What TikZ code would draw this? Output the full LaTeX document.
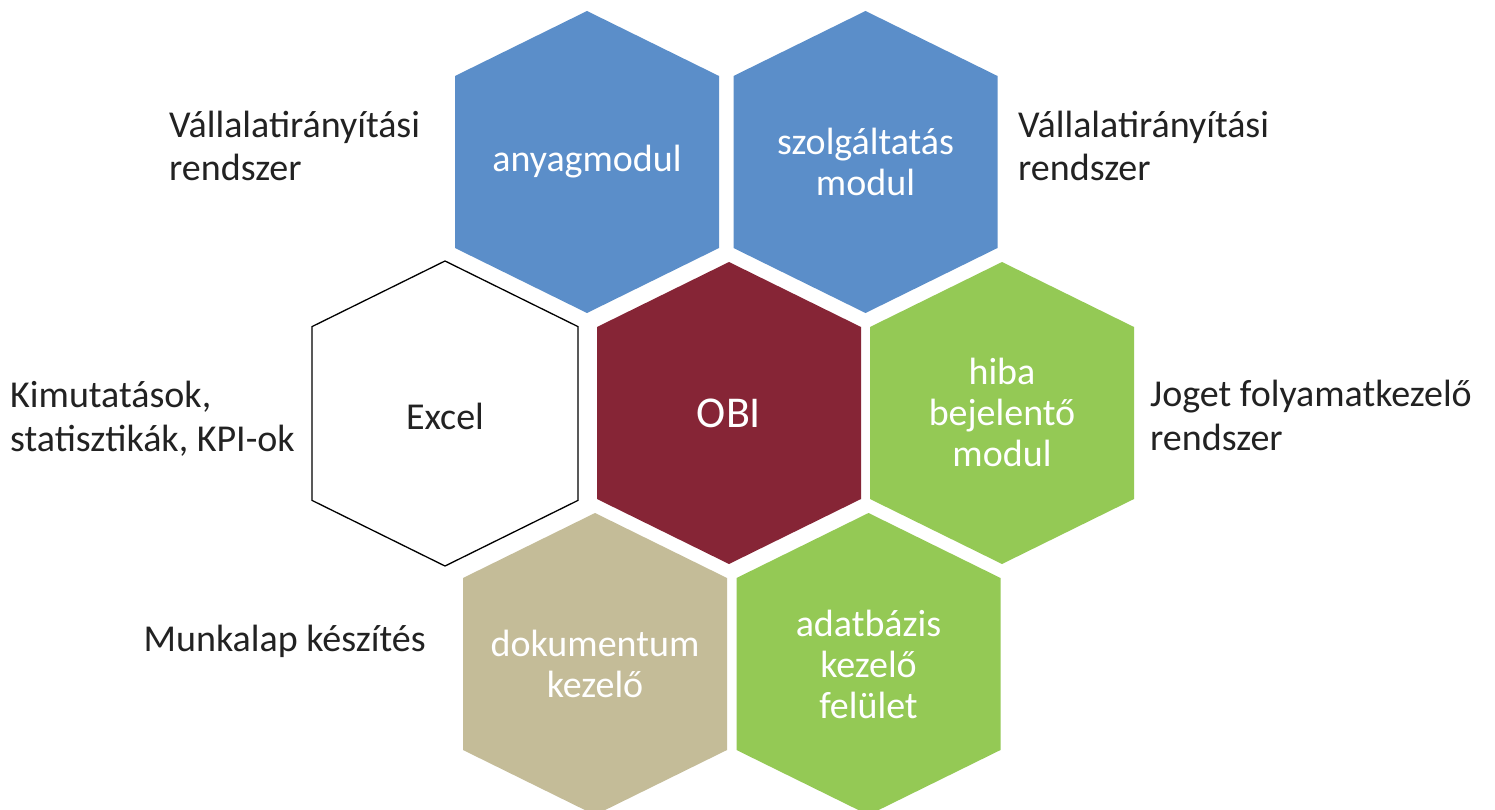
\documentclass[tikz,border=0pt]{standalone}
\usepackage{fontspec}
\setmainfont{Carlito}
\definecolor{hexblue}{HTML}{5B8EC9}
\definecolor{hexred}{HTML}{862536}
\definecolor{hexgreen}{HTML}{94C955}
\definecolor{hextan}{HTML}{C4BC98}
\definecolor{labelgray}{HTML}{222222}
\begin{document}
\begin{tikzpicture}[x=1pt,y=-1pt,
  hexagon/.pic={\path[pic actions] (0,-151) -- (132,-86) -- (132,86) -- (0,151) -- (-132,86) -- (-132,-86) -- cycle;},
  hextext/.style={align=center,text=white,font=\fontsize{38}{41}\selectfont,inner sep=0pt},
  sidelabel/.style={align=left,text=labelgray,font=\fontsize{38}{43.5}\selectfont,inner sep=0pt,anchor=base west}]
\useasboundingbox[fill=white] (0,0) rectangle (1495,810);
% hexagons
\pic[fill=hexblue] at (587,162) {hexagon};
\pic[fill=hexblue] at (865.5,162) {hexagon};
\pic[fill=white,draw=black,line width=1.3pt,xscale=1.008,yscale=1.01] at (445,413.5) {hexagon};
\pic[fill=hexred] at (729,413) {hexagon};
\pic[fill=hexgreen] at (1002,413) {hexagon};
\pic[fill=hextan] at (595,664) {hexagon};
\pic[fill=hexgreen] at (868.5,664) {hexagon};
% hexagon texts
\node[hextext] (anyag) at (587,162) {anyagmodul};
\node[hextext] (szolg) at (865.5,162) {szolgáltatás\\modul};
\node[hextext,text=labelgray] (excel) at (445,416) {Excel};
\node[hextext,font=\fontsize{44}{48}\selectfont] (obi) at (729,413) {OBI};
\node[hextext] (hiba) at (1002,412) {hiba\\bejelentő\\modul};
\node[hextext] (dok) at (595,664) {dokumentum\\kezelő};
\node[hextext] (adat) at (868.5,664) {adatbázis\\kezelő\\felület};
% side labels (base anchor = baseline of the last line)
\node[sidelabel] (l1) at (169,181) {Vállalatirányítási\\rendszer};
\node[sidelabel] (r1) at (1018,181) {Vállalatirányítási\\rendszer};
\node[sidelabel] (l2) at (10,451) {Kimutatások,\\statisztikák, KPI-ok};
\node[sidelabel] (r2) at (1150,450) {Joget folyamatkezelő\\rendszer};
\node[sidelabel] (l3) at (143.5,651.7) {Munkalap készítés};
\end{tikzpicture}
\end{document}
